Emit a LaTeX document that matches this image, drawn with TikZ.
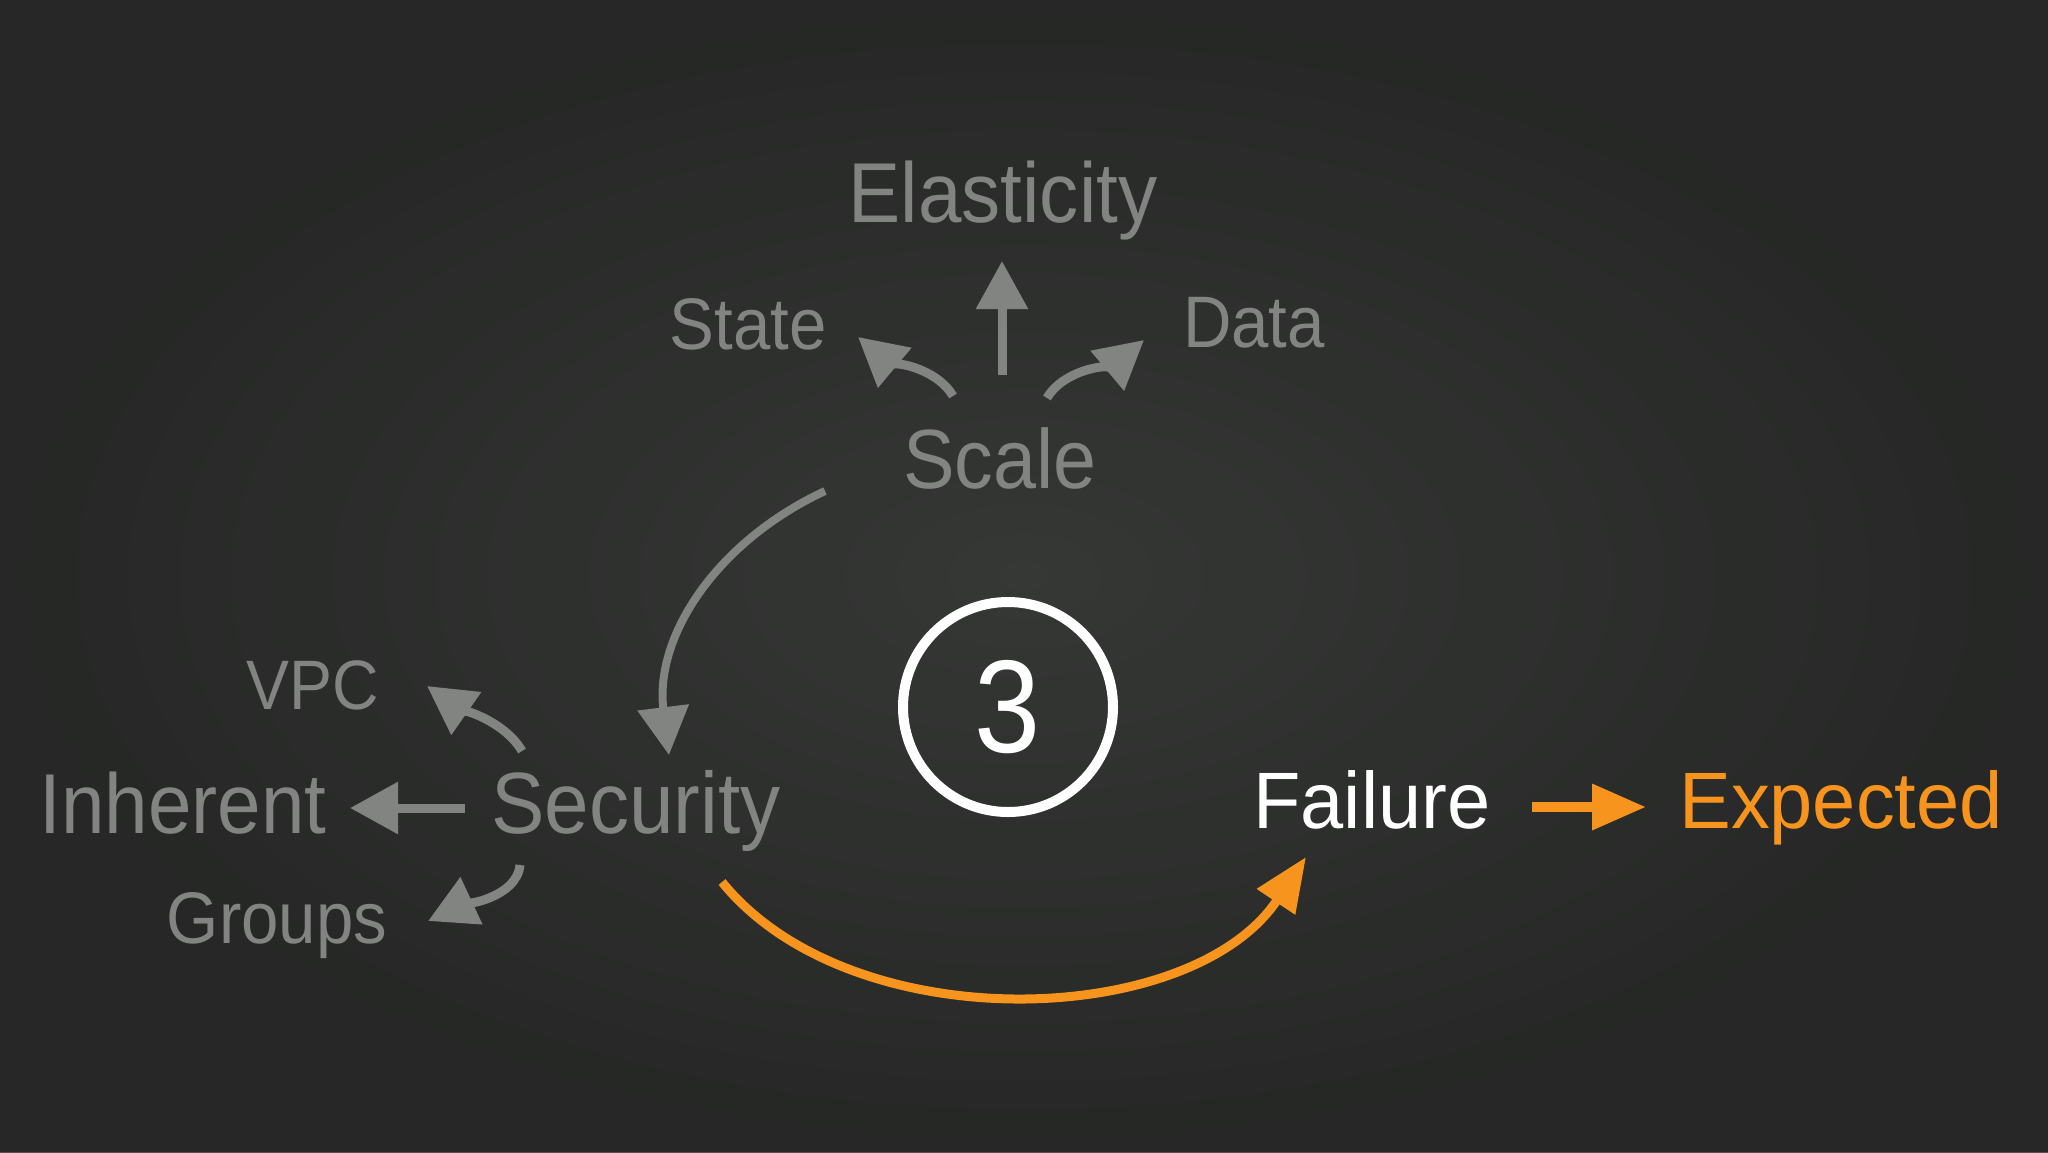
\documentclass[tikz,border=0pt]{standalone}
\usepackage{fontspec}
\usepackage{graphicx}
\setmainfont{Liberation Sans}
\usetikzlibrary{arrows.meta,calc}
\definecolor{bgcol}{RGB}{46,48,46}
\definecolor{bgin}{RGB}{56,58,56}
\definecolor{bgout}{RGB}{36,37,36}
\definecolor{chalk}{RGB}{130,132,129}
\definecolor{orng}{RGB}{247,148,29}
\newcommand{\sqz}[1]{\scalebox{0.92}[1]{#1}}
\newcommand{\sqy}[1]{\scalebox{0.97}[1]{#1}}
\newcommand{\fsz}[1]{\fontsize{#1}{#1}\selectfont}
\tikzset{
  word/.style={anchor=base, inner sep=0pt, outer sep=0pt},
  grayword/.style={word, text=chalk},
  grayarr/.style={draw=chalk, line width=9pt, -{Triangle[length=48pt,width=50pt]}},
  orngarr/.style={draw=orng, line width=9pt, -{Triangle[length=54pt,width=44pt]}},
}
\begin{document}
\begin{tikzpicture}[x=1pt,y=1pt]
  % background
  \fill[bgcol] (0,0) rectangle (2048,-1152);
  \shade[inner color=bgin, outer color=bgout, opacity=0.8] (0,0) rectangle (2048,-1152);
  \useasboundingbox (0,0) rectangle (2048,-1152);

  % words
  \node[grayword] (elast) at (1003,-222) {\fsz{85}\sqz{Elasticity}};
  \node[grayword] (state) at (748,-349) {\fsz{73}\sqz{State}};
  \node[grayword] (data) at (1254,-347) {\fsz{73}\sqz{Data}};
  \node[grayword] (scale) at (1000,-488) {\fsz{84}\sqz{Scale}};
  \node[grayword] (secur) at (636,-833) {\fsz{87}\sqz{Security}};
  \node[grayword] (inher) at (183,-833) {\fsz{85}\sqz{Inherent}};
  \node[grayword] (vpc) at (313,-709) {\fsz{70}\sqz{VPC}};
  \node[grayword] (groups) at (277,-943) {\fsz{73}\sqz{Groups}};
  \node[word, text=white] (fail) at (1372,-828) {\fsz{80}\sqy{Failure}};
  \node[word, text=orng] (expect) at (1841,-828) {\fsz{80}\sqy{Expected}};

  % numbered circle
  \node[circle, draw=white, line width=10pt, minimum size=210pt, inner sep=0pt, text=white]
    (three) at (1008,-707) {\fsz{132}\scalebox{0.9}[1]{3}};

  % gray arrows from Scale
  \draw[grayarr] ($(scale.base)+(2,113)$) -- ($(elast.base)+(-1,-39)$);
  \draw[grayarr] ($(scale.base)+(-47,92)$) to[out=120,in=-40,looseness=0.8] ($(state.base)+(110,12)$);
  \draw[grayarr] ($(scale.base)+(47,90)$) to[out=60,in=-140,looseness=0.8] ($(data.base)+(-110,7)$);
  \draw[grayarr, line width=8pt] ($(scale.base)+(-175,-3)$) to[out=205,in=97] ($(secur.base)+(33,78)$);

  % gray arrows from Security
  \draw[grayarr] ($(secur.base)+(-114,82)$) to[out=120,in=-35,looseness=0.8] ($(vpc.base)+(114,23)$);
  \draw[grayarr] ($(secur.base)+(-171,25)$) -- ($(inher.base)+(167,25)$);
  \draw[grayarr] ($(secur.base)+(-116,-32)$) to[out=-95,in=25,looseness=0.8] ($(groups.base)+(151,22)$);

  % orange arrows
  \draw[orngarr] ($(secur.base)+(86,-49)$) .. controls (850,-1040) and (1190,-1030) .. ($(fail.base)+(-66,-29)$);
  \draw[orngarr, line width=10pt] ($(fail.base)+(160,21)$) -- ($(expect.base)+(-195,21)$);
\end{tikzpicture}
\end{document}
